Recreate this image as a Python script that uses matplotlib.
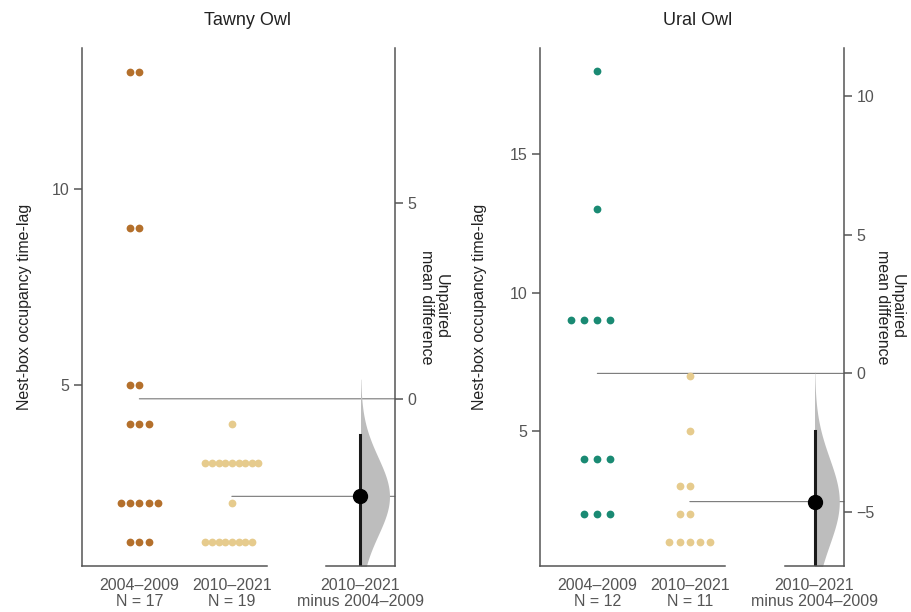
import numpy as np
import matplotlib
matplotlib.use('Agg')
import matplotlib.pyplot as plt
from matplotlib.patches import ConnectionPatch
from matplotlib.ticker import MultipleLocator
from matplotlib.transforms import blended_transform_factory

plt.rcParams['font.family'] = ['Liberation Sans', 'DejaVu Sans']

species = ['Tawny Owl', 'Ural Owl']
periods = ['2004–2009', '2010–2021']

tawny_early = [13, 13, 9, 9, 5, 5, 4, 4, 4, 2, 2, 2, 2, 2, 1, 1, 1]
tawny_late = [4, 3, 3, 3, 3, 3, 3, 3, 3, 3, 2, 1, 1, 1, 1, 1, 1, 1, 1]
ural_early = [18, 13, 9, 9, 9, 9, 4, 4, 4, 2, 2, 2]
ural_late = [7, 5, 3, 3, 2, 2, 1, 1, 1, 1, 1]

# 95% CI of the mean difference (lower end runs past the axis)
ci_tawny = [-4.6, -0.92]
ci_ural = [-7.4, -2.09]

ylims = [(0.38, 13.6), (0.13, 18.83)]
group_colors = [('#b4702c', '#e6cb8d'), ('#1a8a73', '#e6cb8d')]

GREY = '#555555'
FS = 11.5


def swarm_offsets(values, step):
    values = np.asarray(values, float)
    offs = np.zeros(len(values))
    for v in np.unique(values):
        idx = np.where(values == v)[0]
        k = np.arange(len(idx))
        # centre first, then alternate left / right
        order = np.where(k % 2 == 1, -(k + 1) // 2, k // 2)
        offs[idx] = order * step
    return offs


def panel(fig, raw_rect, diff_rect, early, late, ci, ylim, cols, steps,
          title, title_x, ylab_x, rlab_x):
    ax = fig.add_axes(raw_rect)
    ax2 = fig.add_axes(diff_rect)
    ax.patch.set_visible(False)
    ax2.patch.set_visible(False)

    m1, m2 = np.mean(early), np.mean(late)
    diff = m2 - m1

    # raw data swarm
    for i, (vals, c, st) in enumerate(zip([early, late], cols, steps)):
        xs = i + swarm_offsets(vals, st)
        ax.plot(xs, vals, 'o', ms=5.6, color=c, mec='none', zorder=3)

    ax.set_xlim(-0.62, 1.38)
    ax.set_ylim(*ylim)
    ax.set_xticks([0, 1])
    ax.set_xticklabels([f'{periods[0]}\nN = {len(early)}',
                        f'{periods[1]}\nN = {len(late)}'],
                       linespacing=1.0)
    ax.yaxis.set_major_locator(MultipleLocator(5))
    for s in ['top', 'right']:
        ax.spines[s].set_visible(False)
    for s in ['left', 'bottom']:
        ax.spines[s].set_color(GREY)
        ax.spines[s].set_linewidth(1.1)
    ax.tick_params(axis='x', length=0, pad=9, labelsize=FS, labelcolor=GREY)
    ax.tick_params(axis='y', length=6, width=1.1, color=GREY, pad=3,
                   labelsize=FS, labelcolor=GREY)
    ax.set_ylabel('Nest-box occupancy time-lag', fontsize=FS, color='#222222')
    ax.yaxis.set_label_coords(ylab_x, 0.5)

    # contrast axes, 0 aligned with the first group's mean
    ax2.set_ylim(ylim[0] - m1, ylim[1] - m1)
    ax2.set_xlim(-0.5, 0.5)
    n1, n2 = len(early), len(late)
    se = np.sqrt(np.var(early, ddof=1) / n1 + np.var(late, ddof=1) / n2)
    yy = np.linspace(diff - 4.5 * se, diff + 3.0 * se, 300)
    dens = np.exp(-0.5 * ((yy - diff) / se) ** 2)
    ax2.fill_betweenx(yy, 0, 0.42 * dens / dens.max(), color='#bdbdbd',
                      lw=0, zorder=1)
    ax2.plot([0, 0], ci, color='#1a1a1a', lw=2.2, zorder=2)
    ax2.plot(0, diff, 'o', ms=10, color='black', zorder=4)

    ax2.yaxis.tick_right()
    ax2.yaxis.set_major_locator(MultipleLocator(5))
    for s in ['top', 'left']:
        ax2.spines[s].set_visible(False)
    for s in ['right', 'bottom']:
        ax2.spines[s].set_color(GREY)
        ax2.spines[s].set_linewidth(1.1)
    ax2.set_xticks([0])
    ax2.set_xticklabels([f'{periods[1]}\nminus {periods[0]}'], linespacing=1.0)
    ax2.tick_params(axis='x', length=0, pad=9, labelsize=FS, labelcolor=GREY)
    ax2.tick_params(axis='y', length=6, width=1.1, color=GREY, pad=3,
                    labelsize=FS, labelcolor=GREY)
    ax2.text(rlab_x, 0.5, 'Unpaired\nmean difference', rotation=270,
             ha='left', va='center', multialignment='center', linespacing=1.0,
             fontsize=FS, color='#222222', transform=ax2.transAxes)

    # mean reference lines running to the difference axis
    right_edge = blended_transform_factory(ax2.transAxes, ax2.transData)
    for i, m in enumerate([m1, m2]):
        con = ConnectionPatch(xyA=(i, m), coordsA=ax.transData,
                              xyB=(1, m - m1), coordsB=right_edge,
                              color='#777777', lw=0.8, zorder=0)
        fig.add_artist(con)

    fig.text(title_x, 0.966, title, ha='center', va='center', fontsize=13,
             color='#222222')


fig = plt.figure(figsize=(9.12, 6.12), dpi=100)
W, H = 912, 612
bottom, height = (H - 566) / H, 518 / H

panel(fig, [82 / W, bottom, 185 / W, height], [326 / W, bottom, 69 / W, height],
      tawny_early, tawny_late, ci_tawny, ylims[0], group_colors[0], (0.1, 0.072),
      species[0], 248 / W, -0.27, 1.35)
panel(fig, [540 / W, bottom, 185 / W, height], [785 / W, bottom, 59 / W, height],
      ural_early, ural_late, ci_ural, ylims[1], group_colors[1], (0.14, 0.11),
      species[1], 698 / W, -0.286, 1.52)

fig.savefig('out.png', dpi=100)
